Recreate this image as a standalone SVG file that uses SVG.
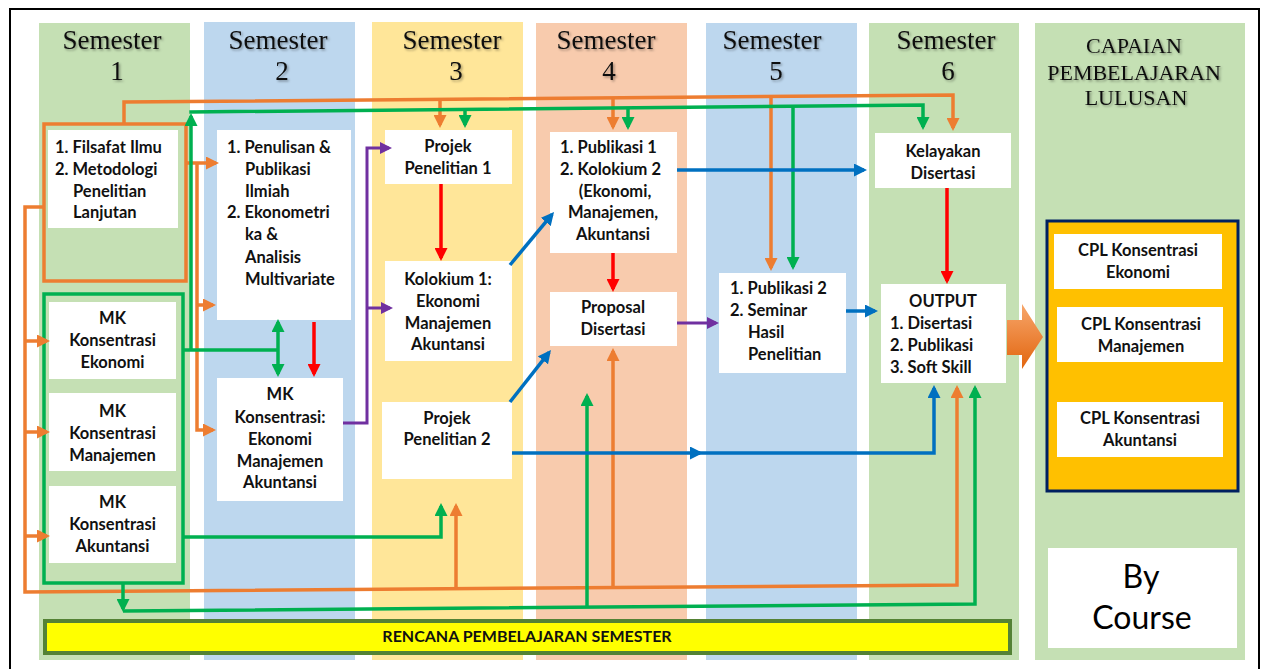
<svg xmlns="http://www.w3.org/2000/svg" width="1261" height="669" viewBox="0 0 1261 669">
<style>
.col-g{fill:#C5E0B4}.col-b{fill:#BDD7EE}.col-y{fill:#FFE699}.col-p{fill:#F8CBAD}
.box{fill:#FFFFFF}
.hd{font-family:"Liberation Serif","Times New Roman",serif;font-size:27px;fill:#111;text-anchor:middle}
.hd2{font-family:"Liberation Serif","Times New Roman",serif;font-size:22px;fill:#111;text-anchor:middle}
.t{font-family:Lato,"Liberation Sans",sans-serif;font-weight:700;font-size:16.5px;fill:#111}
.c{text-anchor:middle}
.big{font-family:Lato,"Liberation Sans",sans-serif;font-size:32px;fill:#000;text-anchor:middle}
.ln{fill:none;stroke-width:3.5;stroke-linejoin:miter}
.or{stroke:#ED7D31}.gr{stroke:#00B050}.rd{stroke:#FF0000}.pu{stroke:#7030A0;stroke-width:3}.bl{stroke:#0070C0}
</style>
<defs>
<filter id="sh" x="-10%" y="-10%" width="130%" height="140%"><feDropShadow dx="1.5" dy="1.5" stdDeviation="1.2" flood-color="#000" flood-opacity="0.35"/></filter>
<linearGradient id="ag" x1="0" y1="0" x2="0" y2="1"><stop offset="0" stop-color="#F7A66B"/><stop offset="1" stop-color="#E2650E"/></linearGradient>
<marker id="mO" markerUnits="userSpaceOnUse" markerWidth="13" markerHeight="13" viewBox="0 0 13 13" refX="10" refY="6.5" orient="auto-start-reverse"><path d="M0,0 L13,6.5 L0,13 z" fill="#ED7D31"/></marker>
<marker id="mG" markerUnits="userSpaceOnUse" markerWidth="13" markerHeight="13" viewBox="0 0 13 13" refX="10" refY="6.5" orient="auto-start-reverse"><path d="M0,0 L13,6.5 L0,13 z" fill="#00B050"/></marker>
<marker id="mR" markerUnits="userSpaceOnUse" markerWidth="13" markerHeight="13" viewBox="0 0 13 13" refX="10" refY="6.5" orient="auto-start-reverse"><path d="M0,0 L13,6.5 L0,13 z" fill="#FF0000"/></marker>
<marker id="mP" markerUnits="userSpaceOnUse" markerWidth="12" markerHeight="12" viewBox="0 0 12 12" refX="9" refY="6" orient="auto-start-reverse"><path d="M0,0 L12,6 L0,12 z" fill="#7030A0"/></marker>
<marker id="mB" markerUnits="userSpaceOnUse" markerWidth="13" markerHeight="13" viewBox="0 0 13 13" refX="10" refY="6.5" orient="auto-start-reverse"><path d="M0,0 L13,6.5 L0,13 z" fill="#0070C0"/></marker>
</defs>
<rect x="0" y="0" width="1261" height="669" fill="#FFFFFF"/>
<rect x="10" y="9" width="1249" height="680" fill="none" stroke="#000" stroke-width="2"/>

<g id="columns">
<rect class="col-g" x="39" y="23" width="151" height="637"/>
<rect class="col-b" x="204" y="22" width="151" height="638"/>
<rect class="col-y" x="372" y="22" width="151" height="638"/>
<rect class="col-p" x="536" y="23" width="151" height="637"/>
<rect class="col-b" x="706" y="23" width="151" height="637"/>
<rect class="col-g" x="869" y="23" width="150" height="637"/>
<rect class="col-g" x="1035" y="23" width="210" height="637"/>
</g>

<g id="headers" filter="url(#sh)">
<text class="hd" x="112" y="49">Semester</text><text class="hd" x="117" y="80">1</text>
<text class="hd" x="278" y="49">Semester</text><text class="hd" x="282" y="80">2</text>
<text class="hd" x="452" y="49">Semester</text><text class="hd" x="456" y="80">3</text>
<text class="hd" x="606" y="49">Semester</text><text class="hd" x="609" y="80">4</text>
<text class="hd" x="772" y="49">Semester</text><text class="hd" x="776" y="80">5</text>
<text class="hd" x="946" y="49">Semester</text><text class="hd" x="948" y="80">6</text>
<text class="hd2" x="1134" y="53">CAPAIAN</text>
<text class="hd2" x="1134" y="80">PEMBELAJARAN</text>
<text class="hd2" x="1136" y="105">LULUSAN</text>
</g>

<g id="node-filsafat">
<rect class="box" x="48" y="130" width="130" height="98"/>
<rect x="44" y="124" width="142" height="157" fill="none" stroke="#ED7D31" stroke-width="3.5"/>
<text class="t" x="55" y="153">1. Filsafat Ilmu</text>
<text class="t" x="55" y="175">2. Metodologi</text>
<text class="t" x="73" y="197">Penelitian</text>
<text class="t" x="73" y="218">Lanjutan</text>
</g>

<g id="node-mk-group">
<rect x="44" y="294" width="139" height="289" fill="none" stroke="#00B050" stroke-width="3.5"/>
</g>
<g id="node-mk-ekonomi">
<rect class="box" x="49" y="302" width="127" height="77"/>
<text class="t c" x="112.5" y="324">MK</text>
<text class="t c" x="112.5" y="346">Konsentrasi</text>
<text class="t c" x="112.5" y="368">Ekonomi</text>
</g>
<g id="node-mk-manajemen">
<rect class="box" x="49" y="393" width="127" height="78"/>
<text class="t c" x="112.5" y="417">MK</text>
<text class="t c" x="112.5" y="439">Konsentrasi</text>
<text class="t c" x="112.5" y="461">Manajemen</text>
</g>
<g id="node-mk-akuntansi">
<rect class="box" x="49" y="486" width="127" height="77"/>
<text class="t c" x="112.5" y="508">MK</text>
<text class="t c" x="112.5" y="530">Konsentrasi</text>
<text class="t c" x="112.5" y="552">Akuntansi</text>
</g>

<g id="node-penulisan">
<rect class="box" x="217" y="130" width="134" height="190"/>
<text class="t" x="227" y="153">1. Penulisan &amp;</text>
<text class="t" x="245" y="175">Publikasi</text>
<text class="t" x="245" y="197">Ilmiah</text>
<text class="t" x="227" y="218">2. Ekonometri</text>
<text class="t" x="245" y="240">ka &amp;</text>
<text class="t" x="245" y="263">Analisis</text>
<text class="t" x="245" y="285">Multivariate</text>
</g>
<g id="node-mk-konsentrasi">
<rect class="box" x="217" y="378" width="126" height="123"/>
<text class="t c" x="280" y="400">MK</text>
<text class="t c" x="280" y="423">Konsentrasi:</text>
<text class="t c" x="280" y="445">Ekonomi</text>
<text class="t c" x="280" y="467">Manajemen</text>
<text class="t c" x="280" y="488">Akuntansi</text>
</g>

<g id="node-projek1">
<rect class="box" x="385" y="130" width="127" height="54"/>
<text class="t c" x="448" y="152">Projek</text>
<text class="t c" x="448" y="174">Penelitian 1</text>
</g>
<g id="node-kolokium1">
<rect class="box" x="385" y="261" width="127" height="100"/>
<text class="t c" x="448" y="285">Kolokium 1:</text>
<text class="t c" x="448" y="307">Ekonomi</text>
<text class="t c" x="448" y="329">Manajemen</text>
<text class="t c" x="448" y="350">Akuntansi</text>
</g>
<g id="node-projek2">
<rect class="box" x="382" y="402" width="130" height="77"/>
<text class="t c" x="447" y="424">Projek</text>
<text class="t c" x="447" y="445">Penelitian 2</text>
</g>

<g id="node-publikasi1">
<rect class="box" x="550" y="132" width="127" height="121"/>
<text class="t" x="560" y="153">1. Publikasi 1</text>
<text class="t" x="560" y="175">2. Kolokium 2</text>
<text class="t c" x="615" y="197">(Ekonomi,</text>
<text class="t c" x="613" y="218">Manajemen,</text>
<text class="t c" x="613" y="240">Akuntansi</text>
</g>
<g id="node-proposal">
<rect class="box" x="550" y="292" width="127" height="54"/>
<text class="t c" x="613" y="313">Proposal</text>
<text class="t c" x="613" y="335">Disertasi</text>
</g>

<g id="node-publikasi2">
<rect class="box" x="719" y="273" width="127" height="100"/>
<text class="t" x="730" y="294">1. Publikasi 2</text>
<text class="t" x="730" y="316">2. Seminar</text>
<text class="t" x="748" y="338">Hasil</text>
<text class="t" x="748" y="360">Penelitian</text>
</g>

<g id="node-kelayakan">
<rect class="box" x="875" y="133" width="136" height="55"/>
<text class="t c" x="943" y="157">Kelayakan</text>
<text class="t c" x="943" y="179">Disertasi</text>
</g>
<g id="node-output">
<rect class="box" x="881" y="284" width="125" height="99"/>
<text class="t c" x="943" y="307">OUTPUT</text>
<text class="t" x="890" y="329">1. Disertasi</text>
<text class="t" x="890" y="351">2. Publikasi</text>
<text class="t" x="890" y="373">3. Soft Skill</text>
</g>

<g id="node-big-arrow">
<path d="M1007,320 H1022 V304 L1043,337 L1022,369 V355 H1007 Z" fill="url(#ag)"/>
</g>

<g id="node-cpl">
<rect x="1047" y="221" width="191" height="270" fill="#FFC000" stroke="#002060" stroke-width="3"/>
<rect class="box" x="1054" y="234" width="168" height="55"/>
<text class="t c" x="1138" y="256">CPL Konsentrasi</text>
<text class="t c" x="1138" y="278">Ekonomi</text>
<rect class="box" x="1057" y="307" width="166" height="55"/>
<text class="t c" x="1141" y="330">CPL Konsentrasi</text>
<text class="t c" x="1141" y="352">Manajemen</text>
<rect class="box" x="1057" y="402" width="166" height="55"/>
<text class="t c" x="1140" y="424">CPL Konsentrasi</text>
<text class="t c" x="1140" y="446">Akuntansi</text>
</g>

<g id="node-by-course">
<rect class="box" x="1048" y="548" width="189" height="100"/>
<text class="big" x="1141" y="588">By</text>
<text class="big" x="1142" y="629">Course</text>
</g>

<g id="node-rps">
<rect x="45" y="621" width="965" height="32" fill="#FFFF00" stroke="#548235" stroke-width="4"/>
<text class="t c" x="527" y="642" style="font-size:16px">RENCANA PEMBELAJARAN SEMESTER</text>
</g>

<g id="connectors">
<path class="ln or" d="M124,124 V102 L953,95 V128" marker-end="url(#mO)"/>
<path class="ln or" d="M440,99.3 V125" marker-end="url(#mO)"/>
<path class="ln or" d="M613,97.8 V127" marker-end="url(#mO)"/>
<path class="ln or" d="M771,96.5 V268" marker-end="url(#mO)"/>
<path class="ln or" d="M44,207 H25 V592 L957,585 V388" marker-end="url(#mO)"/>
<path class="ln or" d="M25,341 H47" marker-end="url(#mO)"/>
<path class="ln or" d="M25,432 H47" marker-end="url(#mO)"/>
<path class="ln or" d="M25,536 H47" marker-end="url(#mO)"/>
<path class="ln or" d="M456,588.8 V506" marker-end="url(#mO)"/>
<path class="ln or" d="M613,587.6 V351" marker-end="url(#mO)"/>
<path class="ln or" d="M186,163 H216" marker-end="url(#mO)"/>
<path class="ln or" d="M197,163 V430 H213" marker-end="url(#mO)"/>
<path class="ln or" d="M197,305 H213" marker-end="url(#mO)"/>
<path class="ln gr" d="M183,350 H278"/>
<path class="ln gr" d="M278,322 V374" marker-start="url(#mG)" marker-end="url(#mG)"/>
<path class="ln gr" d="M191,350 V116" marker-end="url(#mG)"/>
<path class="ln gr" d="M189.3,112 L923,105 V127" marker-end="url(#mG)"/>
<path class="ln gr" d="M465,109 V125" marker-end="url(#mG)"/>
<path class="ln gr" d="M628,107.5 V127" marker-end="url(#mG)"/>
<path class="ln gr" d="M793,106.3 V267" marker-end="url(#mG)"/>
<path class="ln gr" d="M183,537 H441 V506" marker-end="url(#mG)"/>
<path class="ln gr" d="M123,583 V609" marker-end="url(#mG)"/>
<path class="ln gr" d="M123,611 L975,604 V388" marker-end="url(#mG)"/>
<path class="ln gr" d="M587,607.2 V396" marker-end="url(#mG)"/>
<path class="ln rd" d="M314,322 V374" marker-end="url(#mR)"/>
<path class="ln rd" d="M441,184 V258" marker-end="url(#mR)"/>
<path class="ln rd" d="M613,253 V289" marker-end="url(#mR)"/>
<path class="ln rd" d="M947,188 V281" marker-end="url(#mR)"/>
<path class="ln pu" d="M343,423 H367 V148 H389" marker-end="url(#mP)"/>
<path class="ln pu" d="M367,308 H390" marker-end="url(#mP)"/>
<path class="ln pu" d="M677,323 H716" marker-end="url(#mP)"/>
<path class="ln bl" d="M677,170 H864" marker-end="url(#mB)"/>
<path class="ln bl" d="M510,265 L552.1,214.3" marker-end="url(#mB)"/>
<path class="ln bl" d="M510,402 L549.1,352.4" marker-end="url(#mB)"/>
<path class="ln bl" d="M846,311 H875" marker-end="url(#mB)"/>
<path class="ln bl" d="M512,453 H700" marker-end="url(#mB)"/>
<path class="ln bl" d="M698,453 H934 V388" marker-end="url(#mB)"/>
</g>
</svg>
